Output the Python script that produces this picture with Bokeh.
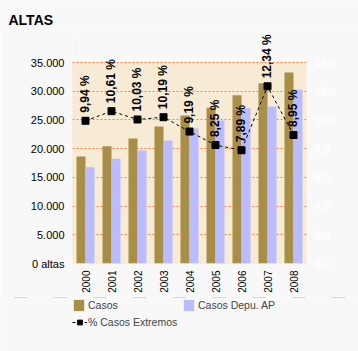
from math import pi
from bokeh.plotting import figure
from bokeh.layouts import column
from bokeh.core.properties import value
from bokeh.models import (ColumnDataSource, FactorRange, Range1d, LinearAxis, FixedTicker,
                          LabelSet, Label, Legend, LegendItem, BoxAnnotation)
from bokeh.transform import dodge
from bokeh.embed import file_html
from bokeh.resources import INLINE

years = ["2000", "2001", "2002", "2003", "2004", "2005", "2006", "2007", "2008"]
casos = [18630, 20420, 21760, 23850, 25770, 27110, 29310, 31400, 33260]
casos_depu = [16770, 18230, 19680, 21420, 23500, 24900, 27040, 27340, 30300]
pct_extremos = [9.94, 10.61, 10.03, 10.19, 9.19, 8.25, 7.89, 12.34, 8.95]

left_ticks = [0, 5000, 10000, 15000, 20000, 25000, 30000, 35000]
left_labels = ["0 altas", "5.000", "10.000", "15.000", "20.000", "25.000", "30.000", "35.000"]
right_ticks = [0, 2, 4, 6, 8, 10, 12, 14]
right_labels = ["0,0", "2,0", "4,0", "6,0", "8,0", "10,0", "12,0", "14,0"]
title_text = "ALTAS"

FONT = "Liberation Sans"
C_CASOS = "#A88E46"
C_DEPU = "#BBBBFF"
C_GRID = "#FF8040"
C_PAGE = "#F8F8F8"
C_AREA = "#F7EBD5"

W = 358
TOP_H = 30          # title strip
MAIN_H = 267        # main chart
LEG_H = 351 - TOP_H - MAIN_H
MB_TOP, MB_BOTTOM = 2, 34
AREA_PX = 201       # pixels for the 0..35000 area
FRAME_PX = MAIN_H - MB_TOP - MB_BOTTOM
Y_MAX, P_MAX = 35000, 14
stretch = FRAME_PX / AREA_PX

src = ColumnDataSource(dict(
    year=years, casos=casos, depu=casos_depu, pct=pct_extremos,
    lbl=[("%.2f" % v).replace(".", ",") + " %" for v in pct_extremos],
))


def bare(fig):
    fig.background_fill_color = C_PAGE
    fig.border_fill_color = C_PAGE
    fig.outline_line_color = None
    fig.grid.visible = False
    fig.title.visible = False


# ---- title strip
t = figure(width=W, height=TOP_H, x_range=Range1d(0, 1), y_range=Range1d(0, 1),
           output_backend="svg", toolbar_location=None, min_border=0,
           x_axis_location=None, y_axis_location=None)
bare(t)

# ---- legend strip (keys drawn from the same series, kept outside the visible range)
lg = figure(width=W, height=LEG_H, x_range=FactorRange(*years), y_range=Range1d(-2, -1),
            output_backend="svg", toolbar_location=None, min_border=0,
            x_axis_location=None, y_axis_location=None)
bare(lg)

aligned = True
try:
    t.frame_align = False
    lg.frame_align = False
    aligned = False
except Exception:
    pass
LEFT = 72
x_off = LEFT if aligned else 0

t.add_layout(Label(x=8 - x_off, y=TOP_H - 19, x_units="screen", y_units="screen",
                   text=title_text, text_font=FONT, text_font_size="14px",
                   text_font_style="bold", text_color="#000000", text_baseline="middle"))

# ---- main chart
p = figure(width=W, height=MAIN_H, x_range=FactorRange(*years),
           y_range=Range1d(0, Y_MAX * stretch),
           output_backend="svg", toolbar_location=None,
           min_border_left=LEFT, min_border_right=52, min_border_top=MB_TOP,
           min_border_bottom=MB_BOTTOM)
p.extra_y_ranges = {"pct": Range1d(0, P_MAX * stretch)}
p.background_fill_color = C_PAGE
p.border_fill_color = C_PAGE
p.outline_line_color = None

area = BoxAnnotation(bottom=0, top=Y_MAX, fill_color=C_AREA, fill_alpha=1,
                     line_color=C_GRID, line_dash="2 2", line_width=1, level="image")
p.add_layout(area)

p.xgrid.grid_line_color = None
p.ygrid.grid_line_color = C_GRID
p.ygrid.grid_line_dash = "2 2"
p.ygrid.ticker = FixedTicker(ticks=left_ticks)

ax = p.yaxis[0]
ax.ticker = FixedTicker(ticks=left_ticks)
ax.major_label_overrides = {t_: l for t_, l in zip(left_ticks, left_labels)}
ax.axis_line_color = None
ax.major_tick_line_color = None
ax.minor_tick_line_color = None
ax.major_tick_out = 0
ax.major_tick_in = 0
ax.major_label_standoff = 8
ax.major_label_text_font = FONT
ax.major_label_text_font_size = "11px"
ax.major_label_text_color = "#000000"

rax = LinearAxis(y_range_name="pct", ticker=FixedTicker(ticks=right_ticks))
rax.major_label_overrides = {t_: l for t_, l in zip(right_ticks, right_labels)}
rax.axis_line_color = None
rax.major_tick_line_color = None
rax.minor_tick_line_color = None
rax.major_tick_out = 0
rax.major_tick_in = 0
rax.major_label_standoff = 8
rax.major_label_text_font = FONT
rax.major_label_text_font_size = "11px"
rax.major_label_text_font_style = "bold"
rax.major_label_text_color = "#FFFFFF"
p.add_layout(rax, "right")

xa = p.xaxis[0]
xa.axis_line_color = None
xa.major_tick_line_color = None
xa.major_tick_out = 0
xa.major_tick_in = 0
xa.major_label_standoff = 7
xa.major_label_orientation = pi / 2
xa.major_label_text_font = FONT
xa.major_label_text_font_size = "10px"
xa.major_label_text_color = "#000000"

p.vbar(x=dodge("year", -0.173, range=p.x_range), top="casos", width=0.346, source=src,
       fill_color=C_CASOS, line_color=None)
p.vbar(x=dodge("year", 0.173, range=p.x_range), top="depu", width=0.346, source=src,
       fill_color=C_DEPU, line_color=None)
p.line(x="year", y="pct", source=src, y_range_name="pct", line_color="black",
       line_dash="3 3", line_width=1)
p.scatter(x="year", y="pct", source=src, y_range_name="pct", marker="square", size=7,
          fill_color="black", line_color="black")

p.add_layout(LabelSet(x="year", y="pct", text="lbl", source=src, y_range_name="pct",
                      angle=pi / 2, y_offset=8, text_align="left", text_baseline="middle",
                      text_font=value(FONT), text_font_size=value("12px"),
                      text_font_style=value("bold"), text_color="black"))

k1 = lg.vbar(x="year", top="casos", width=0.346, source=src, fill_color=C_CASOS, line_color=None)
k2 = lg.vbar(x="year", top="depu", width=0.346, source=src, fill_color=C_DEPU, line_color=None)
k3 = lg.line(x="year", y="pct", source=src, line_color="black", line_dash="3 3", line_width=1)
k4 = lg.scatter(x="year", y="pct", source=src, marker="square", size=7,
                fill_color="black", line_color="black")

leg1 = Legend(items=[LegendItem(label="Casos", renderers=[k1]),
                     LegendItem(label="Casos Depu. AP", renderers=[k2])],
              orientation="horizontal", location=(LEFT - x_off, LEG_H - 15),
              glyph_width=13, glyph_height=14, label_height=14, label_width=94,
              label_standoff=3, spacing=0, padding=0, margin=0,
              border_line_color=None, background_fill_alpha=0,
              label_text_font=FONT, label_text_font_size="10.5px")
leg2 = Legend(items=[LegendItem(label="% Casos Extremos", renderers=[k3, k4])],
              orientation="horizontal", location=(LEFT - x_off, LEG_H - 31),
              glyph_width=15, glyph_height=12, label_height=12,
              label_standoff=1, spacing=0, padding=0, margin=0,
              border_line_color=None, background_fill_alpha=0,
              label_text_font=FONT, label_text_font_size="10.5px")
lg.add_layout(leg1)
lg.add_layout(leg2)

page = column(t, p, lg, spacing=0)
open("out.html", "w").write(file_html(page, INLINE))
